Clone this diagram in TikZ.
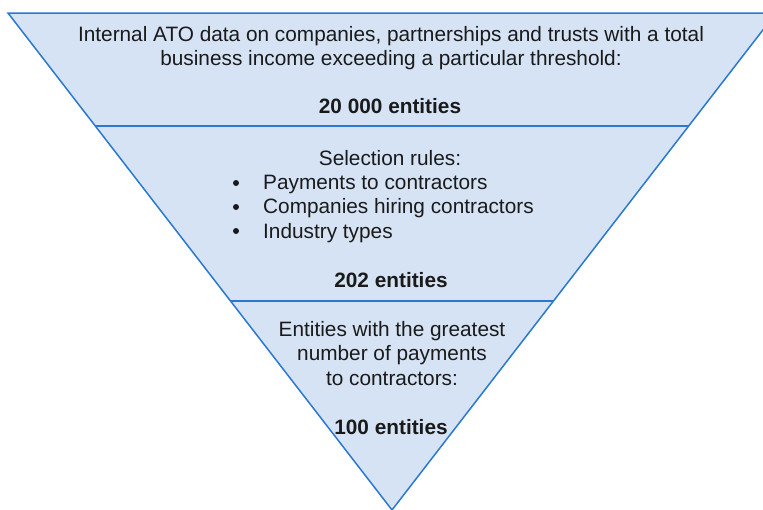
\documentclass[tikz,border=0pt]{standalone}
\usepackage{fontspec}
\setmainfont{Liberation Sans}
\definecolor{fillblue}{HTML}{D5E3F4}
\definecolor{lineblue}{HTML}{2B78D0}
\definecolor{txt}{HTML}{1A1A1A}
\begin{document}
\begin{tikzpicture}[x=1pt,y=-1pt,
  lbl/.style={anchor=base,inner sep=0pt,text=txt,font=\fontsize{20.8}{24}\selectfont},
  blbl/.style={lbl,font=\fontsize{20.8}{24}\selectfont\bfseries},
  bul/.style={anchor=base west,inner sep=0pt,text=txt,font=\fontsize{20.8}{24}\selectfont},
  edge/.style={draw=lineblue,line width=1.5pt}]
\useasboundingbox (0,0) rectangle (763,509);
\clip (0,0) rectangle (763,509);
\coordinate (tl) at (8,13);
\coordinate (tr) at (776,13);
\coordinate (ap) at (392,510);
\fill[fillblue] (tl) -- (tr) -- (ap) -- cycle;
\coordinate (l1) at (95,126);
\coordinate (r1) at (689,126);
\coordinate (l2) at (231,301);
\coordinate (r2) at (553,301);
\draw[edge] (l1) -- (r1);
\draw[edge] (l2) -- (r2);
\draw[edge,line join=miter] (tl) -- (tr) -- (ap) -- cycle;
\node[lbl] (t1) at (391,41) {Internal ATO data on companies, partnerships and trusts with a total};
\node[lbl] (t2) at (391,65) {business income exceeding a particular threshold:};
\node[blbl] (t3) at (390,113) {20 000 entities};
\node[lbl] (s1) at (390,165) {Selection rules:};
\node[bul] (b1) at (263,189) {Payments to contractors};
\node[bul] (b2) at (263,213) {Companies hiring contractors};
\node[bul] (b3) at (263,238) {Industry types};
\foreach \y/\n in {183/d1,207/d2,231/d3} \fill[txt] (236,\y) circle (3);
\node[blbl] (s3) at (391,287) {202 entities};
\node[lbl] (u1) at (392,336) {Entities with the greatest};
\node[lbl] (u2) at (392,360) {number of payments};
\node[lbl] (u3) at (392,385) {to contractors:};
\node[blbl] (u4) at (391,434) {100 entities};
\end{tikzpicture}
\end{document}
